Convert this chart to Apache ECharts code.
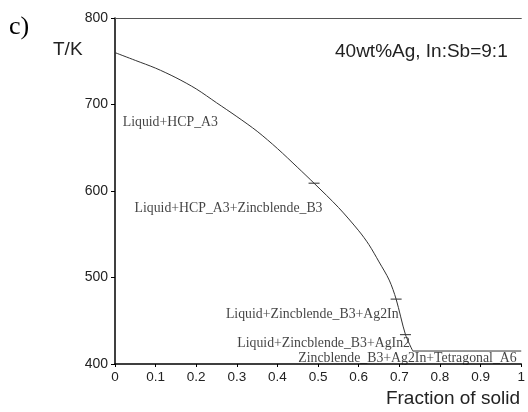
<!DOCTYPE html>
<html>
<head>
<meta charset="utf-8">
<script src="https://cdn.jsdelivr.net/npm/echarts@6/dist/echarts.min.js"></script>
<style>
  html, body { margin: 0; padding: 0; background: #fff; }
  #chart { width: 528px; height: 412px; }
</style>
</head>
<body>
<div id="chart"></div>
<script>
// solidification curve (fraction of solid vs temperature)
const fracSolid = [0, 0.05, 0.1, 0.15, 0.2, 0.25, 0.3, 0.35, 0.4, 0.45, 0.49, 0.55, 0.6, 0.625, 0.65, 0.675, 0.692, 0.715, 0.733];
const tempK = [760, 751, 742, 731, 718, 702, 686, 669, 649, 627, 609, 581, 554, 538, 518, 497, 475, 434, 415];

// three-phase plateau at the end of solidification
const plateauFrac = [0.733, 1.0];
const plateauTemp = [415, 415];

// small tick marks where a new phase appears
const phaseFrac = [0.49, 0.692, 0.715];
const phaseTemp = [609, 475, 434];

// region labels (anchored at their left edge)
const regionNames = [
  "Liquid+HCP_A3",
  "Liquid+HCP_A3+Zincblende_B3",
  "Liquid+Zincblende_B3+Ag2In",
  "Liquid+Zincblende_B3+AgIn2",
  "Zincblende_B3+Ag2In+Tetragonal_A6"
];
const regionFrac = [0.019, 0.048, 0.273, 0.301, 0.451];
const regionTemp = [679, 580, 457, 424, 406.5];

const xTicks = [0, 0.1, 0.2, 0.3, 0.4, 0.5, 0.6, 0.7, 0.8, 0.9, 1];

const chart = echarts.init(document.getElementById("chart"));

const option = {
  animation: false,
  backgroundColor: "#fff",
  grid: { left: 115, top: 18, right: -3, bottom: 48 },
  xAxis: [
    {
      type: "value",
      min: 0,
      max: 1,
      interval: 0.1,
      axisLine: { lineStyle: { color: "#000", width: 1.5 } },
      axisTick: { length: 3, lineStyle: { color: "#000" } },
      axisLabel: {
        margin: 6,
        color: "#222",
        fontFamily: "Liberation Sans",
        fontSize: 13.5,
        formatter: v => {
          const t = xTicks.find(k => Math.abs(k - v) < 1e-6);
          return t === undefined ? "" : String(t);
        }
      },
      splitLine: { show: false }
    },
    {
      type: "value",
      position: "top",
      min: 0,
      max: 1,
      axisLine: { show: true, lineStyle: { color: "#555", width: 1.2 } },
      axisTick: { show: false },
      axisLabel: { show: false },
      splitLine: { show: false }
    }
  ],
  yAxis: {
    type: "value",
    min: 400,
    max: 800,
    interval: 100,
    axisLine: { show: true, lineStyle: { color: "#000", width: 1.5 } },
    axisTick: { show: true, length: 4, lineStyle: { color: "#000" } },
    axisLabel: {
      margin: 7,
      color: "#222",
      fontFamily: "Liberation Sans",
      fontSize: 14
    },
    splitLine: { show: false }
  },
  series: [
    {
      type: "line",
      data: fracSolid.map((x, i) => [x, tempK[i]]),
      showSymbol: false,
      smooth: 0.3,
      lineStyle: { color: "#333", width: 1 }
    },
    {
      type: "line",
      data: plateauFrac.map((x, i) => [x, plateauTemp[i]]),
      showSymbol: false,
      lineStyle: { color: "#333", width: 1 }
    },
    {
      type: "scatter",
      data: phaseFrac.map((x, i) => [x, phaseTemp[i]]),
      symbol: "rect",
      symbolSize: [11, 1.2],
      itemStyle: { color: "#222" }
    },
    {
      type: "scatter",
      data: regionFrac.map((x, i) => ({ value: [x, regionTemp[i]], name: regionNames[i] })),
      symbolSize: 0,
      label: {
        show: true,
        position: "right",
        distance: 0,
        formatter: p => p.name,
        color: "#111",
        fontFamily: "Liberation Serif",
        fontSize: 13.8
      }
    }
  ],
  graphic: [
    {
      type: "text", left: 9, top: 14,
      style: { text: "c)", font: "26px 'Liberation Serif'", fill: "#000" }
    },
    {
      type: "text", left: 53, top: 40,
      style: { text: "T/K", font: "19px 'Liberation Sans'", fill: "#222" }
    },
    {
      type: "text", left: 335, top: 42,
      style: { text: "40wt%Ag, In:Sb=9:1", font: "19px 'Liberation Sans'", fill: "#222" }
    },
    {
      type: "text", right: 8, top: 389,
      style: { text: "Fraction of solid", font: "19px 'Liberation Sans'", fill: "#222" }
    }
  ]
};

chart.setOption(option);
</script>
</body>
</html>
